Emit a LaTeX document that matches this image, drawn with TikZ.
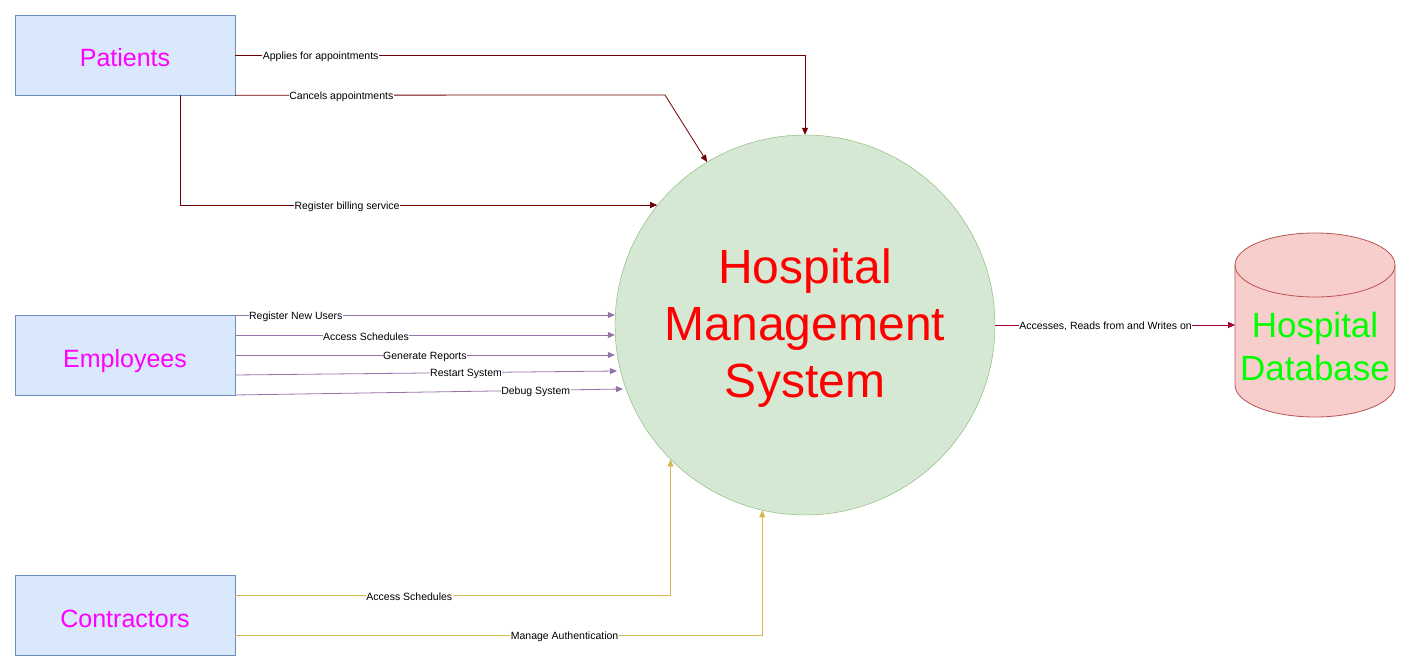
\documentclass[tikz,border=0pt]{standalone}
\usepackage{fontspec}
\setmainfont{Liberation Sans}
\usetikzlibrary{arrows.meta,shapes.geometric}
\definecolor{boxfill}{HTML}{DAE8FC}
\definecolor{boxline}{HTML}{6C8EBF}
\definecolor{circfill}{HTML}{D5E8D4}
\definecolor{circline}{HTML}{82B366}
\definecolor{dbfill}{HTML}{F8CECC}
\definecolor{dbline}{HTML}{B85450}
\definecolor{pcol}{HTML}{6F0000}
\definecolor{ecol}{HTML}{9673A6}
\definecolor{ccol}{HTML}{D6B656}
\definecolor{dcol}{HTML}{A50040}
\definecolor{mag}{HTML}{FF00FF}
\begin{document}
\begin{tikzpicture}[x=1pt,y=-1pt,
  entity/.style={draw=boxline,fill=boxfill,minimum width=220pt,minimum height=80pt,inner sep=0pt,text height=24pt,text depth=0pt,text=mag,font=\fontsize{25}{29}\selectfont},
  flow/.style={-{Triangle[length=7pt,width=6pt]},line width=0.8pt},
  lbl/.style={fill=white,inner sep=0.5pt,yshift=-1.5pt,font=\fontsize{10.5}{12}\selectfont,text=black}]
\useasboundingbox (0,0) rectangle (1411,671);
\node[entity] (pat) at (125,55) {Patients};
\node[entity] (emp) at (125,355) {Employees};
\node[entity] (con) at (125,615) {Contractors};
\node[circle,draw=circline,fill=circfill,minimum size=380pt,inner sep=0pt] (hms) at (805,325) {};
\node[text=red,align=center,font=\fontsize{48}{57}\selectfont] (hmst) at (805,328) {Hospital\\Management\\System};
% cylinder
\coordinate (dbw) at (1235,325);
\draw[dbline,fill=dbfill,line width=0.8pt] (1235,265) -- (1235,385) arc[start angle=180,end angle=0,x radius=80,y radius=32] -- (1395,265) arc[start angle=0,end angle=-180,x radius=80,y radius=32] -- cycle;
\draw[dbline,line width=0.8pt] (1235,265) arc[start angle=180,end angle=0,x radius=80,y radius=32];
\node[text={rgb,255:red,0;green,255;blue,0},align=center,font=\fontsize{35}{43}\selectfont] (db) at (1315,346) {Hospital\\Database};
% patients
\coordinate (p1) at (805,55);
\coordinate (p2) at (665,95);
\coordinate (p3) at (180,205);
\draw[flow,pcol] (pat.east |- 0,55) -- node[lbl,pos=0.15]{Applies for appointments} (p1) -- (hms.north);
\draw[flow,pcol] (pat.south east) -- node[lbl,pos=0.247]{Cancels appointments} (p2) -- (hms.121);
\draw[flow,pcol] (pat.south -| p3) -- (p3) -- node[lbl,pos=0.35]{Register billing service} (hms.141 |- p3);
% employees
\draw[flow,ecol] (235,315) -- node[lbl,pos=0.16]{Register New Users} (hms.west |- 0,315);
\draw[flow,ecol] (235,335) -- node[lbl,pos=0.345]{Access Schedules} (hms.west |- 0,335);
\draw[flow,ecol] (235,355) -- node[lbl,pos=0.5]{Generate Reports} (hms.west |- 0,355);
\draw[flow,ecol] (235,375) -- node[lbl,pos=0.605]{Restart System} (617,371);
\draw[flow,ecol] (235,395) -- node[lbl,pos=0.775]{Debug System} (623,389);
% contractors
\coordinate (c1) at (hms.-135 |- 0,595);
\coordinate (c2) at (hms.-103 |- 0,635);
\draw[flow,ccol] (con.east |- 0,595) -- node[lbl,pos=0.4]{Access Schedules} (c1) -- (hms.-135);
\draw[flow,ccol] (con.east |- 0,635) -- node[lbl,pos=0.625]{Manage Authentication} (c2) -- (hms.-103);
% db
\draw[flow,dcol] (hms.east) -- node[lbl,pos=0.46]{Accesses, Reads from and Writes on} (dbw);
\end{tikzpicture}
\end{document}
